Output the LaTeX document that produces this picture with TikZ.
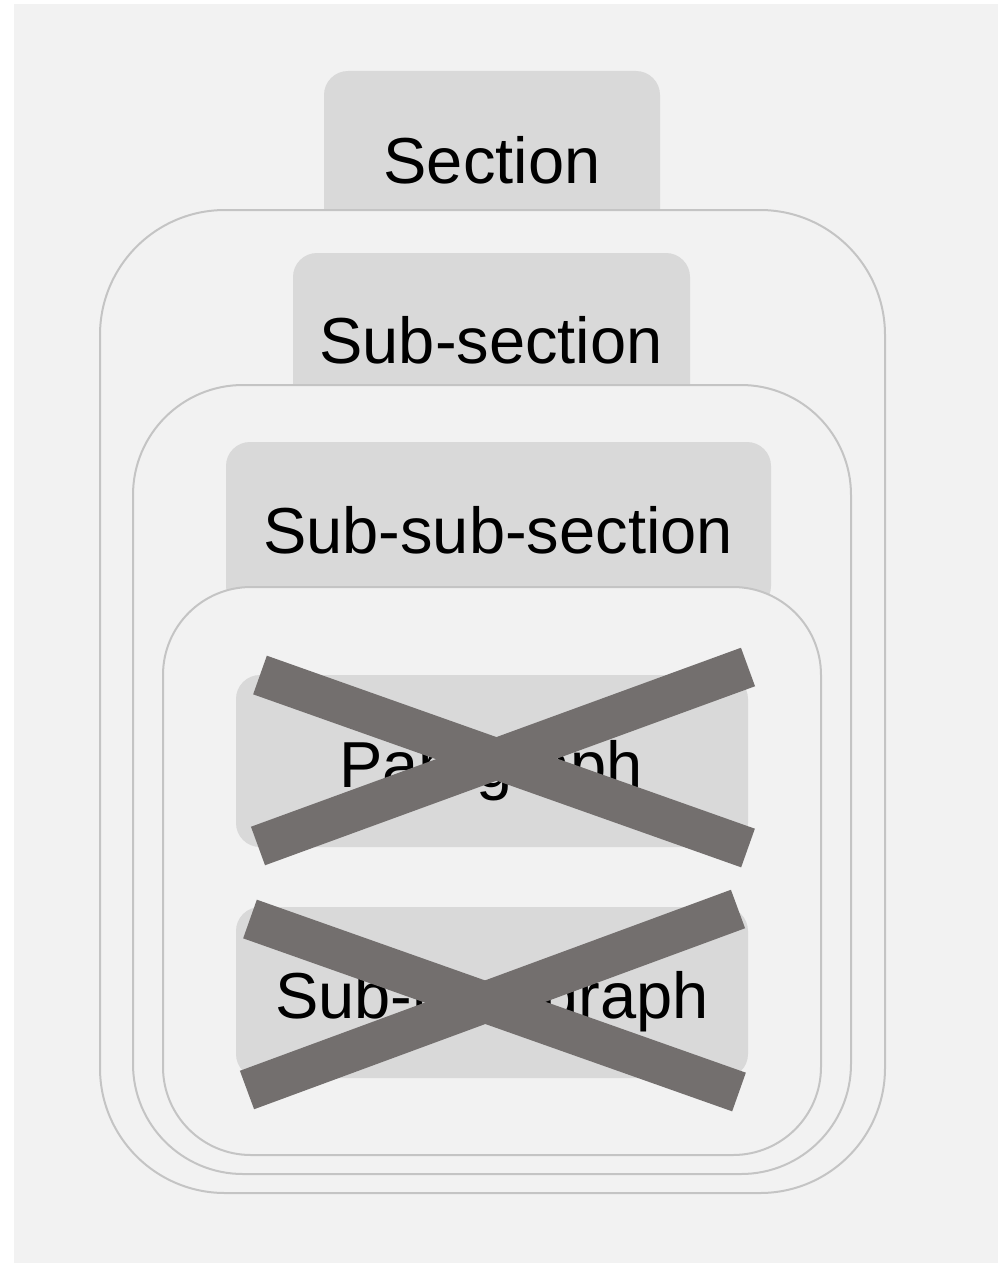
\documentclass[tikz,border=0pt]{standalone}
\usepackage{fontspec}
\setmainfont{Liberation Sans}
\definecolor{bgc}{HTML}{F2F2F2}
\definecolor{tabc}{HTML}{D9D9D9}
\definecolor{linec}{HTML}{C4C4C4}
\definecolor{crossc}{HTML}{736F6E}
\begin{document}
\begin{tikzpicture}[x=1pt,y=-1pt,
  tabfill/.style={fill=tabc, rounded corners=24pt},
  container/.style={fill=bgc, draw=linec, line width=2pt},
  label/.style={anchor=base, inner sep=0pt, font=\fontsize{65}{78}\selectfont, text=black},
  crossbar/.style={draw=crossc, line width=41pt, line cap=butt}]
\useasboundingbox (0,0) rectangle (998,1263);
\fill[white] (0,0) rectangle (998,1263);
\fill[bgc] (14,4) rectangle (998,1263);
% Section
\fill[tabfill] (324,71) rectangle (660,260);
\draw[container, rounded corners=125pt] (100,210) rectangle (885,1193);
% Sub-section
\fill[tabfill] (293,253) rectangle (690,430);
\draw[container, rounded corners=110pt] (133,385) rectangle (851,1174);
% Sub-sub-section
\fill[tabfill] (226,442) rectangle (771,610);
\draw[container, rounded corners=88pt] (163,587) rectangle (821,1155);
% boxes
\fill[tabfill] (236,675) rectangle (748,847);
\fill[tabfill] (236,907) rectangle (748,1078);
\node[label] (sec) at (492,183) {Section};
\node[label] (subsec) at (491,363) {Sub-section};
\node[label] (subsubsec) at (498,553) {Sub-sub-section};
\node[label] (para) at (491,787) {Paragraph};
\node[label] (subpara) at (492,1018) {Sub-paragraph};
% crosses
\coordinate (p1) at (260,675);
\coordinate (p2) at (748,848);
\coordinate (p3) at (258,846);
\coordinate (p4) at (748,667);
\coordinate (s1) at (250,919);
\coordinate (s2) at (739,1092);
\coordinate (s3) at (247,1090);
\coordinate (s4) at (738,909);
\draw[crossbar] (p1) -- (p2);
\draw[crossbar] (p3) -- (p4);
\draw[crossbar] (s1) -- (s2);
\draw[crossbar] (s3) -- (s4);
\end{tikzpicture}
\end{document}
